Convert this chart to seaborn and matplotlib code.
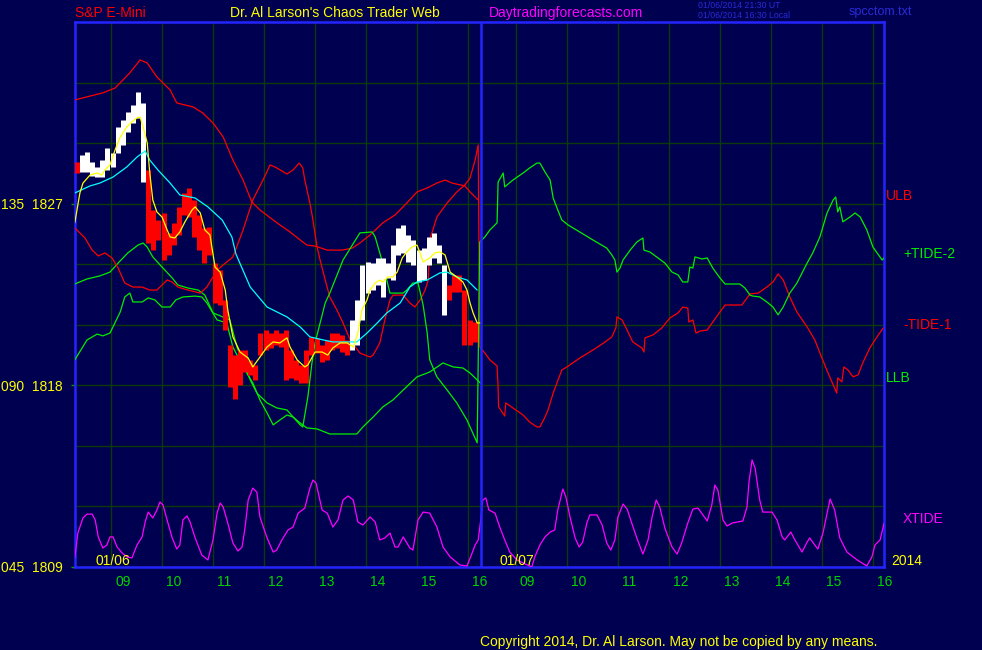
import numpy as np
import matplotlib
matplotlib.use("Agg")
import matplotlib.pyplot as plt
import matplotlib.transforms as mtrans
import seaborn as sns

# ---------------- data ----------------
# times are clock hours, prices are index points
DAY2_SHIFT = 7.94          # day-2 clock hours -> chart x position

# price bars of day 1 (one bar every 6 minutes from 8:20)
bar_start, bar_step = 8.33, 0.1
bar_high = [1829.05, 1829.4, 1829.55, 1829.05, 1828.8, 1829.15, 1829.75, 1829.5, 1830.8, 1831.15,
            1831.55, 1831.9, 1832.55, 1832.0, 1828.65, 1826.7, 1826.2, 1826.55, 1825.55, 1826.05,
            1826.85, 1827.55, 1827.8, 1827.2, 1826.45, 1825.8, 1825.85, 1824.05, 1823.7, 1822.25,
            1820.0, 1819.5, 1819.75, 1819.75, 1819.25, 1819.0, 1820.6, 1820.75, 1820.6, 1820.75,
            1820.6, 1820.75, 1819.75, 1819.25, 1819.0, 1819.75, 1820.4, 1820.35, 1820.0, 1820.25,
            1820.6, 1820.6, 1820.5, 1820.25, 1821.25, 1822.25, 1823.95, 1824.1, 1824.05, 1824.3,
            1824.3, 1824.05, 1824.95, 1825.8, 1825.95, 1825.45, 1825.2, 1824.7, 1824.8, 1825.35,
            1825.55, 1824.95, 1823.95, 1822.95, 1823.45, 1823.45, 1822.7, 1821.25, 1821.15]
bar_low = [1828.5, 1828.55, 1828.55, 1828.35, 1828.3, 1828.3, 1828.65, 1828.8, 1829.5, 1829.9,
           1830.55, 1831.0, 1831.25, 1828.05, 1825.05, 1824.7, 1825.2, 1824.2, 1824.45, 1824.95,
           1825.45, 1826.45, 1826.35, 1825.35, 1824.7, 1824.05, 1824.45, 1822.1, 1822.0, 1820.75,
           1817.9, 1817.3, 1818.0, 1818.65, 1818.5, 1818.25, 1819.5, 1819.75, 1819.85, 1820.0,
           1819.9, 1818.25, 1818.35, 1818.25, 1818.1, 1818.1, 1819.5, 1819.6, 1819.15, 1819.25,
           1819.75, 1819.85, 1819.65, 1819.5, 1819.75, 1820.0, 1821.25, 1822.55, 1822.7, 1822.95,
           1822.4, 1823.3, 1823.2, 1824.45, 1824.55, 1824.1, 1823.95, 1823.1, 1823.2, 1823.95,
           1824.3, 1824.05, 1821.5, 1822.25, 1822.6, 1822.6, 1820.0, 1820.0, 1820.15]
bar_up = [0] + [1] * 13 + [0] * 40 + [1] * 19 + [0] * 6

# short average (yellow)
yellow_t = [8.29, 8.39, 8.45, 8.59, 8.73, 8.82, 8.88, 8.98, 9.08, 9.18, 9.31, 9.41, 9.51, 9.57, 9.63,
            9.71, 9.76, 9.82, 9.90, 10.00, 10.10, 10.16, 10.25, 10.35, 10.45, 10.59, 10.65, 10.75, 10.84, 10.94,
            11.04, 11.14, 11.24, 11.29, 11.39, 11.53, 11.69, 11.78, 11.92, 12.06, 12.18, 12.31, 12.45, 12.51, 12.65,
            12.80, 12.86, 13.00, 13.14, 13.25, 13.35, 13.49, 13.63, 13.75, 13.84, 13.92, 14.02, 14.08, 14.18, 14.27,
            14.33, 14.43, 14.53, 14.61, 14.71, 14.80, 14.90, 15.00, 15.06, 15.12, 15.25, 15.35, 15.45, 15.55, 15.65,
            15.78, 15.90, 15.98, 16.04, 16.10, 16.18, 16.24]
yellow_p = [1826.05, 1827.53, 1828.02, 1828.42, 1828.52, 1828.42, 1828.67, 1828.92, 1829.66, 1830.30,
            1830.80, 1831.05, 1831.25, 1831.29, 1830.80, 1830.01, 1828.52, 1827.18, 1826.59, 1826.34,
            1825.70, 1825.35, 1825.30, 1825.60, 1826.10, 1826.69, 1826.84, 1826.54, 1825.70, 1825.45,
            1823.86, 1823.61, 1822.72, 1821.73, 1820.40, 1819.65, 1819.35, 1818.91, 1819.40, 1819.90,
            1820.15, 1820.10, 1820.35, 1819.90, 1819.26, 1818.91, 1819.01, 1819.65, 1819.65, 1819.50,
            1819.85, 1820.10, 1820.10, 1819.90, 1820.59, 1821.73, 1822.23, 1822.72, 1823.07, 1823.22,
            1823.12, 1823.37, 1823.37, 1823.61, 1824.31, 1824.61, 1824.85, 1824.95, 1824.56, 1824.11,
            1824.31, 1824.56, 1824.61, 1824.46, 1823.61, 1823.37, 1823.12, 1822.72, 1822.08, 1821.59,
            1821.09, 1821.09]

# long average (cyan)
cyan_t = [8.29, 8.59, 8.78, 9.04, 9.31, 9.51, 9.67, 9.76, 9.92, 10.16, 10.35, 10.65, 10.90, 11.18, 11.37,
          11.45, 11.73, 12.06, 12.45, 12.71, 12.90, 13.16, 13.35, 13.82, 14.02, 14.22, 14.41, 14.67, 14.86, 15.00,
          15.20, 15.45, 15.59, 15.78, 15.98, 16.18]
cyan_p = [1827.53, 1827.88, 1828.02, 1828.32, 1828.82, 1829.31, 1829.61, 1829.16, 1828.67, 1828.02,
          1827.43, 1827.28, 1826.84, 1826.19, 1825.35, 1824.5, 1822.87, 1821.88, 1821.39, 1820.89,
          1820.40, 1820.25, 1820.15, 1820.15, 1820.59, 1821.09, 1821.59, 1822.08, 1822.87, 1823.12,
          1823.22, 1823.57, 1823.61, 1823.37, 1823.22, 1822.72]

# upper band (ULB, red) and lower band (LLB, green), day 1
ulb_t = [8.29, 8.84, 9.08, 9.37, 9.57, 9.71, 9.90, 10.16, 10.29, 10.61, 10.80, 11.00, 11.20, 11.39, 11.59,
         11.76, 11.92, 12.18, 12.31, 12.51, 12.71, 12.84, 13.00, 13.24, 13.53, 13.73, 13.88, 14.08, 14.33, 14.57,
         14.80, 15.00, 15.20, 15.39, 15.55, 15.69, 15.94, 16.04, 16.20]
ulb_p = [1832.14, 1832.49, 1832.73, 1833.48, 1834.12, 1833.97, 1833.28, 1832.63, 1831.99, 1831.79,
         1831.49, 1831.0, 1830.30, 1829.16, 1828.17, 1827.09, 1826.69, 1826.19, 1825.95, 1825.6,
         1825.2, 1824.95, 1824.9, 1824.7, 1824.7, 1824.8, 1825.05, 1825.45, 1826.05, 1826.44,
         1827.03, 1827.58, 1827.78, 1828.02, 1828.17, 1828.02, 1827.88, 1827.58, 1827.18]
llb_t = [8.29, 8.53, 8.78, 8.98, 9.14, 9.33, 9.53, 9.63, 9.71, 9.82, 10.00, 10.20, 10.31, 10.51, 10.71,
         10.84, 11.00, 11.33, 11.47, 11.59, 11.73, 11.86, 12.06, 12.25, 12.45, 12.57, 12.71, 12.84, 13.04, 13.29,
         13.82, 13.94, 14.14, 14.33, 14.53, 14.73, 15.00, 15.25, 15.51, 15.71, 15.90, 16.04, 16.24]
llb_p = [1823.02, 1823.27, 1823.42, 1823.61, 1824.06, 1824.56, 1824.95, 1825.05, 1824.85, 1824.36,
         1823.86, 1823.32, 1822.97, 1822.82, 1822.72, 1822.47, 1821.59, 1821.24, 1819.90, 1819.11,
         1818.27, 1817.62, 1817.13, 1816.88, 1816.78, 1816.43, 1816.13, 1815.89, 1815.84, 1815.59,
         1815.59, 1815.94, 1816.43, 1816.93, 1817.28, 1817.77, 1818.42, 1818.66, 1819.11, 1818.91,
         1818.86, 1818.61, 1818.12]

# -TIDE-1 (red): day 1 and day 2
tide1_t1 = [8.29, 8.49, 8.63, 8.75, 8.88, 9.02, 9.14, 9.27, 9.43, 9.61, 9.76, 9.90, 10.00, 10.10, 10.20,
            10.31, 10.51, 10.75, 10.88, 11.08, 11.39, 11.59, 11.78, 11.98, 12.12, 12.25, 12.45, 12.57, 12.69, 12.76,
            12.80, 12.90, 12.96, 13.04, 13.10, 13.20, 13.29, 13.43, 13.55, 13.69, 13.88, 14.08, 14.14, 14.27, 14.37,
            14.47, 14.53, 14.73, 14.86, 14.96, 15.06, 15.16, 15.22, 15.25, 15.39, 15.59, 15.78, 15.94, 16.04, 16.14,
            16.20]
tide1_p1 = [1825.80, 1825.3, 1824.7, 1824.41, 1824.56, 1824.31, 1823.81, 1823.07, 1822.87, 1822.87,
            1822.72, 1822.72, 1822.97, 1823.22, 1823.12, 1822.87, 1822.72, 1822.57, 1822.87, 1823.71,
            1824.36, 1825.70, 1827.18, 1828.17, 1828.92, 1828.77, 1828.47, 1828.67, 1829.01, 1828.77,
            1828.17, 1827.03, 1826.19, 1824.85, 1824.21, 1823.22, 1822.38, 1821.73, 1821.09, 1820.25,
            1819.6, 1819.4, 1819.5, 1820.1, 1821.24, 1822.23, 1822.47, 1822.47, 1822.08, 1821.88,
            1822.23, 1822.72, 1823.22, 1825.2, 1826.34, 1827.03, 1827.58, 1827.93, 1828.27, 1829.16,
            1829.91]
tide1_t2 = [8.29, 8.39, 8.49, 8.63, 8.65, 8.66, 8.78, 8.80, 8.94, 9.14, 9.27, 9.41, 9.47, 9.57, 9.63,
            9.73, 9.90, 10.00, 10.25, 10.51, 10.75, 10.88, 10.96, 10.98, 11.08, 11.18, 11.29, 11.47, 11.51, 11.53,
            11.69, 11.86, 12.02, 12.18, 12.27, 12.37, 12.39, 12.47, 12.53, 12.61, 12.75, 12.86, 13.10, 13.43, 13.59,
            13.75, 13.92, 14.04, 14.14, 14.24, 14.37, 14.51, 14.71, 14.86, 15.00, 15.12, 15.29, 15.31, 15.39, 15.43,
            15.51, 15.61, 15.71, 15.80, 15.94, 16.04, 16.20]
tide1_p2 = [1819.9, 1819.6, 1819.26, 1818.96, 1817.92, 1816.93, 1816.48, 1817.13, 1816.88, 1816.53,
            1816.18, 1815.94, 1815.94, 1816.43, 1816.78, 1817.62, 1818.76, 1818.91, 1819.35, 1819.75,
            1820.15, 1820.40, 1820.84, 1821.39, 1821.24, 1820.74, 1820.15, 1819.85, 1819.65, 1820.35,
            1820.50, 1820.84, 1821.34, 1821.59, 1821.88, 1821.83, 1821.14, 1821.24, 1820.59, 1820.69,
            1820.74, 1821.14, 1821.98, 1821.98, 1822.53, 1822.57, 1822.87, 1823.12, 1823.52, 1823.22,
            1822.38, 1821.63, 1820.89, 1820.25, 1819.35, 1818.61, 1817.62, 1818.37, 1818.17, 1818.91,
            1818.76, 1818.42, 1818.52, 1819.11, 1819.85, 1820.25, 1820.84]

# +TIDE-2 (green): day 1 and day 2
tide2_t1 = [8.29, 8.53, 8.73, 8.84, 8.98, 9.18, 9.27, 9.37, 9.43, 9.61, 9.73, 9.86, 10.00, 10.16, 10.27,
            10.41, 10.65, 10.78, 10.88, 11.08, 11.27, 11.39, 11.59, 11.78, 11.92, 12.06, 12.18, 12.31, 12.45, 12.57,
            12.71, 12.76, 12.86, 12.94, 13.00, 13.10, 13.20, 13.29, 13.55, 13.88, 14.12, 14.18, 14.31, 14.47, 14.73,
            14.80, 14.92, 15.02, 15.12, 15.20, 15.25, 15.39, 15.59, 15.78, 15.98, 16.18]
tide2_p1 = [1819.26, 1820.25, 1820.54, 1820.45, 1820.59, 1821.63, 1822.38, 1822.57, 1822.13, 1822.13,
            1822.33, 1822.23, 1821.88, 1821.88, 1822.23, 1822.38, 1822.42, 1822.38, 1822.08, 1821.24,
            1821.09, 1819.90, 1818.91, 1818.12, 1817.28, 1816.63, 1816.04, 1816.28, 1816.53, 1816.43,
            1816.04, 1815.94, 1817.43, 1819.11, 1820.10, 1821.09, 1822.08, 1822.57, 1824.21, 1825.55,
            1825.60, 1825.35, 1824.21, 1822.57, 1822.57, 1822.72, 1823.07, 1823.07, 1821.98, 1820.59,
            1819.26, 1818.42, 1817.77, 1817.13, 1816.28, 1815.15]
tide2_t2 = [8.29, 8.39, 8.49, 8.63, 8.64, 8.65, 8.75, 8.78, 8.94, 9.14, 9.27, 9.41, 9.47, 9.57, 9.67,
            9.73, 9.82, 9.90, 10.02, 10.25, 10.51, 10.78, 10.88, 10.94, 10.98, 11.04, 11.10, 11.24, 11.37, 11.49,
            11.51, 11.63, 11.76, 11.92, 12.06, 12.18, 12.27, 12.37, 12.41, 12.47, 12.51, 12.65, 12.75, 12.86, 13.00,
            13.10, 13.39, 13.49, 13.59, 13.65, 13.78, 13.92, 14.04, 14.14, 14.24, 14.37, 14.51, 14.71, 14.82, 14.96,
            15.10, 15.22, 15.27, 15.29, 15.31, 15.35, 15.41, 15.55, 15.65, 15.75, 15.88, 16.00, 16.18, 16.22]
tide2_p2 = [1825.10, 1825.35, 1825.70, 1826.05, 1827.03, 1828.07, 1828.52, 1827.83, 1828.17, 1828.52,
            1828.77, 1829.01, 1829.01, 1828.57, 1828.17, 1827.28, 1826.69, 1826.19, 1825.95, 1825.60,
            1825.20, 1824.80, 1824.46, 1824.21, 1823.61, 1823.81, 1824.21, 1824.70, 1825.10, 1825.30,
            1824.70, 1824.60, 1824.36, 1824.06, 1823.61, 1823.47, 1823.12, 1823.12, 1823.86, 1823.81,
            1824.36, 1824.26, 1824.31, 1823.81, 1823.32, 1823.02, 1823.02, 1822.82, 1822.47, 1822.42,
            1822.38, 1822.13, 1821.88, 1821.49, 1821.88, 1822.57, 1823.07, 1824.06, 1824.56, 1825.35,
            1826.54, 1827.18, 1827.33, 1826.94, 1826.59, 1826.84, 1826.10, 1826.34, 1826.54, 1826.34,
            1825.70, 1824.85, 1824.21, 1824.31]

# XTIDE (magenta)
xtide_t1 = [8.29, 8.35, 8.45, 8.53, 8.63, 8.69, 8.75, 8.84, 8.92, 8.98, 9.04, 9.12, 9.22, 9.31, 9.41,
            9.51, 9.61, 9.67, 9.73, 9.82, 9.90, 9.96, 10.02, 10.10, 10.20, 10.29, 10.35, 10.41, 10.49, 10.55,
            10.65, 10.78, 10.90, 11.00, 11.08, 11.14, 11.20, 11.29, 11.39, 11.49, 11.57, 11.63, 11.69, 11.78, 11.86,
            11.92, 12.06, 12.18, 12.25, 12.35, 12.47, 12.57, 12.67, 12.80, 12.90, 12.96, 13.02, 13.14, 13.24, 13.35,
            13.45, 13.55, 13.65, 13.75, 13.84, 13.94, 14.08, 14.18, 14.27, 14.37, 14.47, 14.57, 14.63, 14.73, 14.86,
            14.92, 15.02, 15.12, 15.25, 15.39, 15.51, 15.65, 15.84, 15.98, 16.08, 16.14, 16.20]
xtide_p1 = [1809.45, 1810.68, 1811.43, 1811.62, 1811.62, 1811.33, 1810.49, 1809.94, 1810.09, 1810.49,
            1810.49, 1809.99, 1809.69, 1809.50, 1809.45, 1810.09, 1810.49, 1811.23, 1811.72, 1811.43,
            1811.82, 1812.22, 1812.07, 1811.33, 1810.44, 1809.89, 1810.09, 1811.33, 1811.53, 1811.23,
            1810.44, 1809.59, 1809.35, 1810.34, 1811.67, 1812.17, 1811.97, 1811.18, 1810.19, 1809.79,
            1809.99, 1810.98, 1812.32, 1812.91, 1812.71, 1811.48, 1810.44, 1809.74, 1809.84, 1810.34,
            1810.83, 1810.98, 1811.67, 1811.92, 1812.91, 1813.31, 1813.16, 1811.82, 1811.67, 1810.98,
            1811.33, 1812.32, 1812.52, 1812.32, 1811.23, 1811.08, 1811.48, 1811.23, 1810.34, 1810.44,
            1810.68, 1809.99, 1809.99, 1810.49, 1809.94, 1809.84, 1811.33, 1811.72, 1811.67, 1810.98,
            1809.99, 1809.50, 1809.10, 1809.05, 1809.69, 1810.09, 1810.34]
xtide_t2 = [8.31, 8.35, 8.41, 8.47, 8.59, 8.69, 8.78, 8.88, 9.02, 9.14, 9.31, 9.37, 9.47, 9.57, 9.67,
            9.76, 9.82, 9.92, 9.98, 10.06, 10.16, 10.24, 10.31, 10.39, 10.45, 10.59, 10.69, 10.78, 10.86, 10.94,
            11.00, 11.10, 11.18, 11.27, 11.37, 11.49, 11.59, 11.67, 11.75, 11.82, 11.92, 12.06, 12.16, 12.25, 12.37,
            12.47, 12.57, 12.75, 12.84, 12.90, 12.96, 13.06, 13.14, 13.24, 13.45, 13.53, 13.57, 13.63, 13.69, 13.78,
            13.84, 14.02, 14.12, 14.22, 14.27, 14.39, 14.47, 14.61, 14.71, 14.76, 14.86, 14.92, 15.02, 15.16, 15.25,
            15.35, 15.49, 15.69, 15.88, 15.98, 16.04, 16.14, 16.22]
xtide_p2 = [1811.33, 1812.32, 1812.42, 1811.82, 1811.67, 1810.93, 1810.34, 1809.74, 1809.35, 1809.20,
            1809.0, 1809.50, 1810.09, 1810.49, 1810.73, 1810.83, 1811.82, 1812.86, 1812.47, 1811.48,
            1810.44, 1809.99, 1810.24, 1811.18, 1811.58, 1811.58, 1811.08, 1810.19, 1809.84, 1810.34,
            1811.48, 1812.12, 1811.87, 1811.18, 1810.44, 1809.64, 1810.34, 1811.48, 1812.32, 1811.97,
            1810.93, 1809.99, 1809.64, 1810.19, 1811.18, 1811.87, 1811.92, 1811.28, 1812.07, 1813.06,
            1812.81, 1811.33, 1811.03, 1811.18, 1811.28, 1811.97, 1813.21, 1814.30, 1813.90, 1812.32,
            1811.72, 1811.72, 1811.33, 1810.49, 1810.34, 1810.73, 1810.34, 1809.74, 1810.24, 1810.44,
            1810.09, 1809.89, 1810.68, 1812.37, 1811.82, 1810.44, 1809.74, 1809.35, 1809.05, 1809.50,
            1810.09, 1810.34, 1811.18]

hours = [9, 10, 11, 12, 13, 14, 15, 16]
hour_labels = ["09", "10", "11", "12", "13", "14", "15", "16"]
price_ticks = [1809, 1818, 1827]
price_labels = ["045  1809", "090  1818", "135  1827"]

# ---------------- style ----------------
BG = "#000050"
BLUE = "#2424ff"
GRID = "#0a3a0a"
RED, GREEN, CYAN, YELLOW, MAGENTA = "#ff0000", "#00ee00", "#00ffff", "#ffff00", "#ff00ff"

sns.set_theme(style="dark", rc={"axes.facecolor": BG, "figure.facecolor": BG})
plt.rcParams["font.family"] = ["Liberation Sans", "DejaVu Sans"]

W, H = 982, 650
fig = plt.figure(figsize=(W / 100, H / 100), dpi=100)
ax = fig.add_axes([75 / W, 1 - 567 / H, (884 - 75) / W, (567 - 22) / H])
ax.set_facecolor(BG)


def line(t, p, color, z=3, lw=0.9):
    sns.lineplot(x=t, y=p, color=color, lw=lw, sort=False, estimator=None,
                 errorbar=None, legend=False, ax=ax, zorder=z)


def day2(t):
    return list(np.array(t) + DAY2_SHIFT)


# bands and tides
line(ulb_t, ulb_p, RED)
line(llb_t, llb_p, GREEN)
line(tide1_t1 + day2(tide1_t2), tide1_p1 + tide1_p2, RED)
line(tide2_t1 + day2(tide2_t2), tide2_p1 + tide2_p2, GREEN)
line(xtide_t1 + day2(xtide_t2), xtide_p1 + xtide_p2, MAGENTA)

# price bars
bar_t = bar_start + bar_step * np.arange(len(bar_high))
bar_col = ["#ffffff" if u else RED for u in bar_up]
ax.vlines(bar_t, bar_low, bar_high, colors=bar_col, lw=3.6, zorder=4)

line(cyan_t, cyan_p, CYAN, z=5)
line(yellow_t, yellow_p, YELLOW, z=6)

# day separator
ax.axvline(16.255, color=BLUE, lw=1.8, zorder=7)

# axes, grid, ticks
ax.set_xlim(8.294, 24.157)
ax.set_ylim(1809, 1836)
xt = hours + [h + DAY2_SHIFT for h in hours]
ax.set_xticks(xt)
ax.set_xticklabels(hour_labels * 2)
ax.set_yticks(price_ticks)
ax.set_yticklabels(price_labels)
ax.set_yticks(np.arange(1812, 1836, 3), minor=True)
ax.grid(True, which="both", color=GRID, lw=1.0, zorder=0)
ax.set_xlabel("")
ax.set_ylabel("")
ax.tick_params(axis="x", length=0, colors="#00d400", labelsize=10, pad=6)
ax.tick_params(axis="y", which="major", length=3, width=1, color="#00a000",
               labelcolor=YELLOW, labelsize=10, pad=6, left=True)
ax.tick_params(axis="y", which="minor", length=0)
shift = mtrans.ScaledTranslation(4 / 100, 0, fig.dpi_scale_trans)
for lbl in ax.get_xticklabels():
    lbl.set_ha("left")
    lbl.set_transform(lbl.get_transform() + shift)
for s in ax.spines.values():
    s.set_color(BLUE)
    s.set_linewidth(1.8)
    s.set_visible(True)


def ftext(px, py, s, color, size=10, **kw):
    fig.text(px / W, 1 - py / H, s, color=color, fontsize=size, va="center", ha="left", **kw)


# header
ftext(75, 13, "S&P E-Mini", RED)
ftext(230, 13, "Dr. Al Larson's Chaos Trader Web", YELLOW)
ftext(489, 13, "Daytradingforecasts.com", MAGENTA)
ftext(698, 6, "01/06/2014 21:30 UT", "#2a2ad8", size=6.3)
ftext(698, 16, "01/06/2014 16:30 Local", "#2a2ad8", size=6.3)
ftext(849, 12, "spcctom.txt", "#2a2ad8", size=9)

# right-hand labels
ftext(886, 196, "ULB", RED)
ftext(903, 254, "+TIDE-2", GREEN)
ftext(903, 325, "-TIDE-1", RED)
ftext(886, 378, "LLB", GREEN)
ftext(903, 519, "XTIDE", MAGENTA)
ftext(891, 561, "2014", YELLOW)

# dates inside the plot
ftext(96, 561, "01/06", YELLOW)
ftext(500, 561, "01/07", YELLOW)

# footer
ftext(480, 642, "Copyright 2014, Dr. Al Larson. May not be copied by any means.", YELLOW)

fig.savefig("out.png", dpi=100, facecolor=BG)
